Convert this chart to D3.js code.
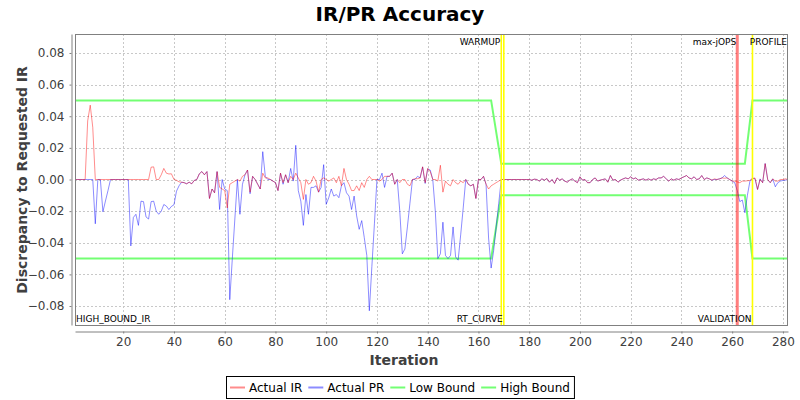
<!DOCTYPE html>
<html>
<head>
<meta charset="utf-8">
<script src="https://cdn.jsdelivr.net/npm/d3@7"></script>
<style>
  body { margin: 0; background: #fff; }
  text { font-family: "DejaVu Sans", sans-serif; }
</style>
</head>
<body>
<div id="chart"></div>
<script>
// iteration numbers on the x axis
const iterations = d3.range(1, 283);

// Actual IR, one value per iteration (1..282)
const actualIR = [
  0, 0, 0, 0, 0, 0.037, 0.047, 0.033, 0, 0,
  0, 0, 0, 0, 0, 0, 0, 0, 0, 0,
  0, 0, 0, 0, 0, 0, 0, 0, 0, 0,
  0.0078, 0.008, 0, 0, 0.003, 0.007, 0.004, 0.0035, 0.0036, 0,
  -0.0005, -0.0015, -0.0017, -0.002, -0.0027, -0.0017, -0.0027, -0.0006, 0, 0.0036,
  0.005, 0.003, 0.005, -0.012, -0.006, -0.0084, 0.005, -0.005, -0.006, -0.007,
  -0.018, -0.003, -0.002, -0.001, 0, -0.001, 0.002, 0.003, 0.006, -0.008,
  0.002, 0, -0.003, -0.006, 0.004, 0.001, 0.001, 0, -0.001, -0.002,
  -0.007, 0.004, -0.002, 0.003, -0.002, 0.002, 0, 0.004, 0.001, -0.002,
  -0.0126, 0, -0.003, -0.002, 0.002, -0.001, -0.008, 0, 0.001, 0,
  -0.001, 0, 0.001, -0.002, 0.002, -0.004, 0.007, 0, -0.003, -0.007,
  -0.007, -0.004, -0.007, -0.002, -0.005, 0, 0.002, 0, 0, 0,
  -0.001, 0, 0.002, 0.002, 0.002, 0.004, -0.003, 0, -0.002, 0,
  0, -0.003, -0.004, 0, 0.0005, 0.0005, 0.001, 0.008, -0.002, 0.007,
  0.005, 0, 0, -0.001, 0.009, -0.008, -0.001, -0.003, -0.004, 0,
  -0.002, -0.003, -0.001, -0.002, 0, -0.003, -0.004, -0.003, -0.012, 0,
  0, 0.002, -0.003, -0.006, -0.004, -0.003, -0.002, -0.001, 0, 0,
  0, 0, 0, 0, 0, 0, 0, 0, 0, 0,
  -0.0004, 0.0002, 0, -0.001, 0.0004, -0.0004, 0.0006, -0.0017, 0, -0.0025,
  0.001, -0.0004, 0.0004, -0.001, -0.0017, -0.0004, 0.0004, -0.001, -0.002, 0.0017,
  -0.0004, 0, -0.002, -0.002, 0, 0.001, -0.001, -0.0004, 0, 0.0004,
  -0.0017, 0.0025, -0.0004, 0, -0.0017, -0.0004, 0.0004, 0.001, 0.0004, 0.0017,
  0.0004, 0.001, -0.0004, 0, 0.0004, -0.0004, 0.0004, -0.0004, 0.0004, 0,
  0.001, 0.001, 0.002, 0.0004, -0.001, 0.0004, -0.0004, 0.0004, 0, 0.001,
  0.0017, 0.0025, 0.001, 0.0004, 0.0017, 0, 0.0004, 0.0025, 0, 0.001,
  0.0004, -0.0004, 0.0004, 0, 0.0004, 0.001, 0.0008, 0.001, 0, -0.001,
  -0.001, -0.0015, -0.002, -0.001, -0.001, -0.0008, -0.0006, 0.0004, 0.001, -0.0063,
  0, -0.002, 0.01, 0, -0.002, 0.0004, -0.001, -0.001, 0, 0,
  0.0004, 0
];

// Actual PR, one value per iteration (1..282)
const actualPR = [
  0, 0, 0, 0, 0, 0, 0, 0, -0.028, 0,
  0, -0.0204, -0.0136, -0.007, 0, 0, 0, 0, 0, 0,
  0, 0, -0.042, -0.024, -0.022, -0.029, -0.0137, -0.014, -0.0237, -0.025,
  -0.014, -0.0137, -0.02, -0.022, -0.02, -0.0158, -0.0168, -0.019, -0.017, -0.016,
  -0.0074, -0.004, -0.0017, -0.002, -0.0027, -0.0017, -0.0027, -0.0006, 0, 0.0036,
  0.005, 0.003, 0.005, -0.012, -0.006, -0.0084, 0.005, -0.019, 0, -0.006,
  -0.007, -0.076, -0.05, -0.025, 0, -0.022, -0.003, 0.003, 0.006, -0.009,
  0.002, 0, -0.003, -0.006, 0.0176, 0.002, 0, 0, -0.001, -0.002,
  -0.007, 0.004, -0.003, 0.003, -0.002, 0.007, -0.001, 0.0216, -0.007, -0.0137,
  -0.029, -0.0095, -0.022, -0.005, -0.005, -0.004, -0.008, -0.005, 0.0094, -0.0157,
  -0.0115, -0.006, -0.0105, -0.0095, -0.0115, -0.004, -0.002, -0.0084, -0.0105, -0.019,
  -0.0105, -0.023, -0.0315, -0.026, -0.0367, -0.048, -0.083, -0.055, -0.028, 0,
  0, 0.004, -0.005, 0.002, 0.002, 0.004, -0.003, 0, -0.02, -0.047,
  -0.044, -0.03, -0.015, 0, 0, 0.002, 0.001, 0.008, -0.0025, 0.0067,
  0.006, 0, -0.02, -0.05, -0.047, -0.027, -0.048, -0.05, -0.048, -0.03,
  -0.049, -0.051, -0.035, -0.018, 0, -0.003, -0.004, -0.003, -0.012, 0,
  0, 0.002, -0.003, -0.037, -0.056, -0.045, -0.03, -0.015, 0, 0,
  0, 0, 0, 0, 0, 0, 0, 0, 0, 0,
  -0.0004, 0.0002, 0, -0.001, 0.0004, -0.0004, 0.0006, -0.0017, 0, -0.0025,
  0.001, -0.0004, 0.0004, -0.001, -0.0017, -0.0004, 0.0004, -0.001, -0.002, 0.0017,
  -0.0004, 0, -0.002, -0.002, 0, 0.001, -0.001, -0.0004, 0, 0.0004,
  -0.0017, 0.0025, -0.0004, 0, -0.0017, -0.0004, 0.0004, 0.001, 0.0004, 0.0017,
  0.0004, 0.001, -0.0004, 0, 0.0004, -0.0004, 0.0004, -0.0004, 0.0004, 0,
  0.001, 0.001, 0.002, 0.0004, -0.001, 0.0004, -0.0004, 0.0004, 0, 0.001,
  0.0017, 0.0025, 0.001, 0.0004, 0.0017, 0, 0.0004, 0.0025, 0, 0.001,
  0.0004, -0.0004, 0, 0, 0.0004, 0.001, 0.0025, 0.001, 0, -0.001,
  -0.002, -0.007, -0.014, -0.013, -0.021, -0.01, -0.001, 0.001, 0.0004, -0.0063,
  0.0004, -0.002, 0.0101, 0, -0.002, 0.0004, -0.0046, -0.002, -0.001, -0.0006,
  -0.0004, 0
];

// bound lines: corner iterations and their values
const boundIters = [1, 165, 169, 265, 268, 282];
const lowBound = [-0.05, -0.05, -0.01, -0.01, -0.05, -0.05];
const highBound = [0.05, 0.05, 0.01, 0.01, 0.05, 0.05];

// phase markers
const markerIters = [1, 169, 170, 262, 268, 282];
const markerLabels = ["HIGH_BOUND_IR", "WARMUP", "RT_CURVE", "max-jOPS", "VALIDATION", "PROFILE"];

const yTicks = [-0.08, -0.06, -0.04, -0.02, 0, 0.02, 0.04, 0.06, 0.08];
const xTicks = [20, 40, 60, 80, 100, 120, 140, 160, 180, 200, 220, 240, 260, 280];

const seriesNames = ["Actual IR", "Actual PR", "Low Bound", "High Bound"];

const W = 800, H = 400;
const pLeft = 75, pRight = 788, pTop = 34, pBottom = 325;

const svg = d3.select('#chart')
  .append('svg')
  .attr('width', W)
  .attr('height', H);

svg.append('rect').attr('width', W).attr('height', H).attr('fill', '#fff');

const x = d3.scaleLinear().domain([1, 282]).range([pLeft, pRight]);
const y = d3.scaleLinear().domain([-0.092, 0.092]).range([pBottom, pTop]);

// title
svg.append('text')
  .attr('x', 400).attr('y', 21)
  .attr('text-anchor', 'middle')
  .style('font-size', '20px').style('font-weight', 'bold')
  .text('IR/PR Accuracy');

// grid
const grid = svg.append('g')
  .attr('stroke', '#c8c8c8')
  .attr('stroke-dasharray', '2,2')
  .attr('stroke-width', 1);

grid.selectAll('line.gx')
  .data(xTicks)
  .enter()
  .append('line')
  .attr('x1', d => Math.round(x(d)) + 0.5).attr('x2', d => Math.round(x(d)) + 0.5)
  .attr('y1', pTop).attr('y2', pBottom);

grid.selectAll('line.gy')
  .data(yTicks)
  .enter()
  .append('line')
  .attr('y1', d => Math.round(y(d)) + 0.5).attr('y2', d => Math.round(y(d)) + 0.5)
  .attr('x1', pLeft).attr('x2', pRight);

svg.append('clipPath').attr('id', 'plotclip')
  .append('rect')
  .attr('x', pLeft).attr('y', pTop)
  .attr('width', pRight - pLeft).attr('height', pBottom - pTop);

const plot = svg.append('g').attr('clip-path', 'url(#plotclip)');

const line = d3.line()
  .x((d, i) => x(iterations[i]))
  .y(d => y(d));

const boundLine = d3.line()
  .x((d, i) => x(boundIters[i]))
  .y(d => y(d));

const colors = {
  "Actual IR": 'rgba(255,0,0,0.45)',
  "Actual PR": 'rgba(0,0,255,0.45)',
  "Low Bound": 'rgba(0,255,0,0.55)',
  "High Bound": 'rgba(0,255,0,0.55)'
};

plot.append('path')
  .attr('d', boundLine(lowBound))
  .attr('fill', 'none')
  .attr('stroke', colors["Low Bound"])
  .attr('stroke-width', 2);

plot.append('path')
  .attr('d', boundLine(highBound))
  .attr('fill', 'none')
  .attr('stroke', colors["High Bound"])
  .attr('stroke-width', 2);

plot.append('path')
  .attr('d', line(actualPR))
  .attr('fill', 'none')
  .attr('stroke', colors["Actual PR"])
  .attr('stroke-width', 1);

plot.append('path')
  .attr('d', line(actualIR))
  .attr('fill', 'none')
  .attr('stroke', colors["Actual IR"])
  .attr('stroke-width', 1);

// markers: max-jOPS is red, the rest yellow
plot.selectAll('line.marker')
  .data(markerIters)
  .enter()
  .append('line')
  .attr('x1', d => x(d)).attr('x2', d => x(d))
  .attr('y1', pTop).attr('y2', pBottom)
  .attr('stroke', (d, i) => markerLabels[i] === 'max-jOPS' ? 'rgba(255,0,0,0.5)' : '#ffff00')
  .attr('stroke-width', (d, i) => markerLabels[i] === 'max-jOPS' ? 3 : 1.6);

// labels alternate top / bottom
const topLabels = ["WARMUP", "max-jOPS", "PROFILE"];
svg.selectAll('text.marker')
  .data(markerIters)
  .enter()
  .append('text')
  .attr('x', (d, i) => markerLabels[i] === 'HIGH_BOUND_IR' ? x(d) + 1 : x(d) - 1)
  .attr('y', (d, i) => topLabels.includes(markerLabels[i]) ? 45 : 322)
  .attr('text-anchor', (d, i) => markerLabels[i] === 'HIGH_BOUND_IR' ? 'start' : 'end')
  .style('font-size', '9px')
  .attr('fill', '#000')
  .text((d, i) => markerLabels[i]);

// plot border
svg.append('rect')
  .attr('x', pLeft + 0.5).attr('y', pTop + 0.5)
  .attr('width', pRight - pLeft - 1).attr('height', pBottom - pTop)
  .attr('fill', 'none')
  .attr('stroke', '#808080');

// axes
const yAxis = svg.append('g')
  .attr('transform', 'translate(71.5,0)')
  .call(d3.axisLeft(y).tickValues(yTicks).tickFormat(d3.format('.2f')).tickSize(2).tickSizeOuter(0).tickPadding(5));

const xAxis = svg.append('g')
  .attr('transform', 'translate(0,331.5)')
  .call(d3.axisBottom(x).tickValues(xTicks).tickSize(2).tickSizeOuter(0).tickPadding(4));

[yAxis, xAxis].forEach(a => {
  a.select('.domain').attr('stroke', '#808080');
  a.selectAll('.tick line').attr('stroke', '#808080');
  a.selectAll('.tick text')
    .attr('fill', '#404040')
    .style('font-size', '12px')
    .style('font-family', '"DejaVu Sans", sans-serif');
});

// axis titles
svg.append('text')
  .attr('transform', 'translate(27,180) rotate(-90)')
  .attr('text-anchor', 'middle')
  .style('font-size', '14px').style('font-weight', 'bold')
  .attr('fill', '#404040')
  .text('Discrepancy to Requested IR');

svg.append('text')
  .attr('x', 404).attr('y', 365)
  .attr('text-anchor', 'middle')
  .style('font-size', '14px').style('font-weight', 'bold')
  .attr('fill', '#404040')
  .text('Iteration');

// legend
const legend = svg.append('g');
let lx = 0;
seriesNames.forEach(name => {
  const g = legend.append('g');
  g.append('line')
    .attr('x1', 0).attr('x2', 15)
    .attr('y1', 0).attr('y2', 0)
    .attr('stroke', colors[name])
    .attr('stroke-width', 2);
  const t = g.append('text')
    .attr('x', 19).attr('y', 4.5)
    .style('font-size', '12px')
    .attr('fill', '#000')
    .text(name);
  const w = 19 + t.node().getComputedTextLength();
  g.attr('transform', `translate(${lx},0)`);
  lx += w + 6;
});
const legendW = lx - 6 + 8;
const legendX = Math.round(400 - legendW / 2);
legend.attr('transform', `translate(${legendX + 4},387.5)`);
svg.append('rect')
  .attr('x', legendX + 0.5).attr('y', 376.5)
  .attr('width', legendW).attr('height', 22)
  .attr('fill', 'none')
  .attr('stroke', '#000');
</script>
</body>
</html>
